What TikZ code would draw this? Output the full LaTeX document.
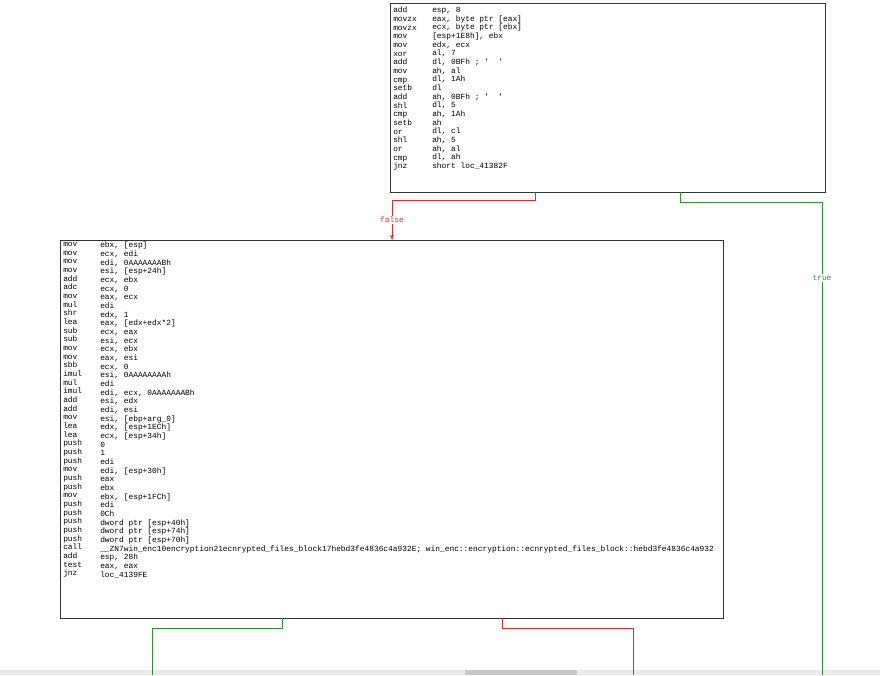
\documentclass[tikz,border=0pt]{standalone}
\usepackage{fontspec}
\setmonofont{Liberation Mono}
\usetikzlibrary{arrows.meta}
\definecolor{edgered}{RGB}{230,40,40}
\definecolor{edgegreen}{RGB}{40,150,40}
\tikzset{
  blk/.style={draw=black!80,thick,fill=white,inner sep=0pt,anchor=north west},
  asm/.style={anchor=north west,inner sep=0pt,align=left,
    font=\fontsize{5.9}{6.5}\selectfont\ttfamily},
  lbl/.style={font=\fontsize{5.9}{6.5}\selectfont\ttfamily,fill=white,inner sep=1pt}
}
\begin{document}
\begin{tikzpicture}[x=0.75pt,y=-0.75pt]
\useasboundingbox (0,0) rectangle (880,675);
\fill[black!8] (0,670) rectangle (880,675);
\fill[black!22] (465,670) rectangle (577,675);
% top block
\node[blk,minimum width=435*0.75pt,minimum height=189*0.75pt] (top) at (390,3) {};
\node[asm] (topm) at (393,7) {add\\movzx\\movzx\\mov\\mov\\xor\\add\\mov\\cmp\\setb\\add\\shl\\cmp\\setb\\or\\shl\\or\\cmp\\jnz};
\node[asm] (topo) at (432,7) {esp, 8\\eax, byte ptr [eax]\\ecx, byte ptr [ebx]\\{}[esp+1E8h], ebx\\edx, ecx\\al, 7\\dl, 0BFh ; '~~'\\ah, al\\dl, 1Ah\\dl\\ah, 0BFh ; '~~'\\dl, 5\\ah, 1Ah\\ah\\dl, cl\\ah, 5\\ah, al\\dl, ah\\short loc\_41382F};
% bottom block
\node[blk,minimum width=663*0.75pt,minimum height=378*0.75pt] (bot) at (60,240) {};
\node[asm] (botm) at (63,242) {mov\\mov\\mov\\mov\\add\\adc\\mov\\mul\\shr\\lea\\sub\\sub\\mov\\mov\\sbb\\imul\\mul\\imul\\add\\add\\mov\\lea\\lea\\push\\push\\push\\mov\\push\\push\\mov\\push\\push\\push\\push\\push\\call\\add\\test\\jnz};
\node[asm] (boto) at (100,242) {ebx, [esp]\\ecx, edi\\edi, 0AAAAAAABh\\esi, [esp+24h]\\ecx, ebx\\ecx, 0\\eax, ecx\\edi\\edx, 1\\eax, [edx+edx*2]\\ecx, eax\\esi, ecx\\ecx, ebx\\eax, esi\\ecx, 0\\esi, 0AAAAAAAAh\\edi\\edi, ecx, 0AAAAAAABh\\esi, edx\\edi, esi\\esi, [ebp+arg\_0]\\edx, [esp+1ECh]\\ecx, [esp+34h]\\0\\1\\edi\\edi, [esp+30h]\\eax\\ebx\\ebx, [esp+1FCh]\\edi\\0Ch\\dword ptr [esp+40h]\\dword ptr [esp+74h]\\dword ptr [esp+70h]\\\_\_ZN7win\_enc10encryption21ecnrypted\_files\_block17hebd3fe4836c4a932E; win\_enc::encryption::ecnrypted\_files\_block::hebd3fe4836c4a932\\esp, 28h\\eax, eax\\loc\_4139FE};
% connectors
\coordinate (tf) at (535,192);
\coordinate (tt) at (680,192);
\coordinate (bt) at (282,618);
\coordinate (bf) at (502,618);
\coordinate (fin) at (392,240);
\draw[edgered,-{Stealth[length=4pt]}] (tf) -- ++(0,8) -| (fin) node[lbl,pos=0.75] {false};
\draw[edgegreen] (tt) -- ++(0,10) -| (822,675) node[lbl,pos=0.58,text=edgegreen] {true};
\draw[edgegreen] (bt) -- ++(0,10) -| (152,675);
\draw[edgered] (bf) -- ++(0,10) -| (633,675);
\end{tikzpicture}
\end{document}
